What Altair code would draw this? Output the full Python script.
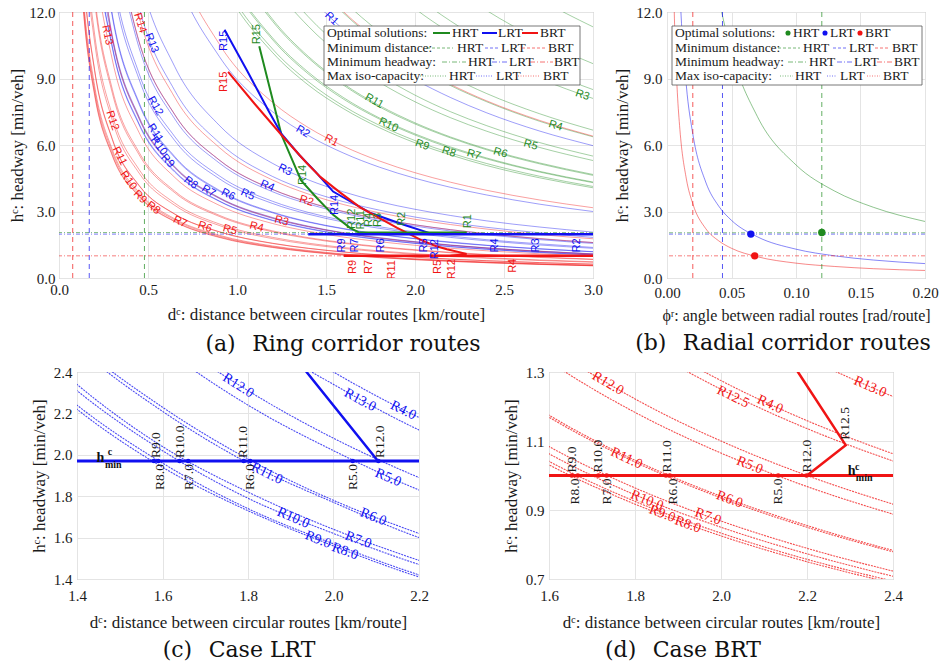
import math
import altair as alt
import pandas as pd

# ---------------- colours / fonts ----------------
GREEN = "#1f8a1f"
BLUE = "#1010f0"
RED = "#f01414"
MODES = ["HRT", "LRT", "BRT"]
MODE_COLOR = {"HRT": GREEN, "LRT": BLUE, "BRT": RED}
CS = alt.Scale(domain=MODES, range=[GREEN, BLUE, RED])
SERIF = "Liberation Serif"
SANS = "Liberation Sans"
CAP_FONT = "DejaVu Serif"

# ---------------- data ----------------
# distance grid (km/route); every iso-capacity list holds the headways read at the LAST len(list) grid points
D_GRID = [0.1, 0.14, 0.2, 0.3, 0.45, 0.65, 0.9, 1.2, 1.4, 1.6, 1.8, 2.0, 2.2, 2.4, 2.7, 3.0]

BRT_ISO = {
    "R1": [21.11, 14.62, 10.56, 7.92, 6.79, 5.94, 5.28, 4.75, 4.32, 3.96, 3.52, 3.17],
    "R2": [16.0, 10.67, 7.38, 5.33, 4.0, 3.43, 3.0, 2.67, 2.4, 2.18, 2.0, 1.78, 1.6],
    "R3": [16.25, 10.83, 7.22, 5.0, 3.61, 2.71, 2.321, 2.031, 1.806, 1.625, 1.477, 1.354, 1.204, 1.083],
    "R4": [18.21, 12.75, 8.5, 5.67, 3.92, 2.83, 2.125, 1.821, 1.594, 1.417, 1.275, 1.159, 1.063, 0.944, 0.85],
    "R5": [21.3, 15.21, 10.65, 7.1, 4.73, 3.28, 2.37, 1.775, 1.521, 1.331, 1.183, 1.065, 0.968, 0.888, 0.789, 0.71],
    "R6": [18.8, 13.43, 9.4, 6.27, 4.18, 2.89, 2.09, 1.567, 1.343, 1.175, 1.044, 0.94, 0.855, 0.783, 0.696, 0.627],
    "R7": [17.35, 12.39, 8.68, 5.78, 3.86, 2.67, 1.93, 1.446, 1.239, 1.084, 0.964, 0.868, 0.789, 0.723, 0.643, 0.578],
    "R8": [16.5, 11.79, 8.25, 5.5, 3.67, 2.54, 1.83, 1.375, 1.179, 1.031, 0.917, 0.825, 0.75, 0.688, 0.611, 0.55],
    "R9": [16.65, 11.89, 8.33, 5.55, 3.7, 2.56, 1.85, 1.388, 1.189, 1.041, 0.925, 0.833, 0.757, 0.694, 0.617, 0.555],
    "R10": [17.0, 12.14, 8.5, 5.67, 3.78, 2.62, 1.89, 1.417, 1.214, 1.063, 0.944, 0.85, 0.773, 0.708, 0.63, 0.567],
    "R11": [18.7, 13.36, 9.35, 6.23, 4.16, 2.88, 2.08, 1.558, 1.336, 1.169, 1.039, 0.935, 0.85, 0.779, 0.693, 0.623],
    "R12": [22.0, 15.71, 11.0, 7.33, 4.89, 3.38, 2.44, 1.833, 1.571, 1.375, 1.222, 1.1, 1.0, 0.917, 0.815, 0.733],
    "R12.5": [17.86, 12.5, 8.33, 5.56, 3.85, 2.78, 2.083, 1.786, 1.563, 1.389, 1.25, 1.136, 1.042, 0.926, 0.833],
    "R13": [21.07, 14.75, 9.83, 6.56, 4.54, 3.28, 2.458, 2.107, 1.844, 1.639, 1.475, 1.341, 1.229, 1.093, 0.983],
    "R14": [17.67, 11.78, 8.15, 5.89, 4.42, 3.79, 3.31, 2.94, 2.65, 2.41, 2.21, 1.96, 1.77],
    "R15": [21.33, 16.0, 13.71, 12.0, 10.67, 9.6, 8.73, 8.0, 7.11, 6.4],
}
LRT_ISO = {
    "R1": [19.89, 14.92, 12.79, 11.19, 9.94, 8.95, 8.14, 7.46, 6.63, 5.97],
    "R2": [20.0, 13.85, 10.0, 7.5, 6.43, 5.63, 5.0, 4.5, 4.09, 3.75, 3.33, 3.0],
    "R3": [18.33, 12.22, 8.46, 6.11, 4.58, 3.93, 3.44, 3.06, 2.75, 2.5, 2.29, 2.04, 1.83],
    "R4": [15.97, 10.64, 7.37, 5.32, 3.99, 3.42, 2.99, 2.66, 2.40, 2.18, 2.00, 1.77, 1.60],
    "R5": [20.15, 13.43, 8.96, 6.2, 4.48, 3.36, 2.88, 2.52, 2.24, 2.02, 1.83, 1.68, 1.49, 1.34],
    "R6": [17.8, 11.87, 7.91, 5.48, 3.96, 2.97, 2.54, 2.23, 1.98, 1.78, 1.62, 1.48, 1.32, 1.19],
    "R7": [16.35, 10.9, 7.27, 5.03, 3.63, 2.73, 2.34, 2.04, 1.82, 1.64, 1.49, 1.36, 1.21, 1.09],
    "R8": [22.21, 15.55, 10.37, 6.91, 4.78, 3.46, 2.59, 2.22, 1.94, 1.73, 1.56, 1.41, 1.30, 1.15, 1.04],
    "R9": [22.36, 15.65, 10.43, 6.96, 4.82, 3.48, 2.61, 2.24, 1.96, 1.74, 1.57, 1.42, 1.30, 1.16, 1.04],
    "R10": [23.07, 16.15, 10.77, 7.18, 4.97, 3.59, 2.69, 2.31, 2.02, 1.79, 1.62, 1.47, 1.35, 1.20, 1.08],
    "R11": [17.65, 11.77, 7.84, 5.43, 3.92, 2.94, 2.52, 2.21, 1.96, 1.77, 1.60, 1.47, 1.31, 1.18],
    "R12": [20.75, 13.83, 9.22, 6.38, 4.61, 3.46, 2.96, 2.59, 2.31, 2.08, 1.89, 1.73, 1.54, 1.38],
    "R13": [15.57, 10.38, 7.18, 5.19, 3.89, 3.34, 2.92, 2.59, 2.34, 2.12, 1.95, 1.73, 1.56],
    "R14": [20.67, 13.78, 9.54, 6.89, 5.17, 4.43, 3.88, 3.44, 3.1, 2.82, 2.58, 2.30, 2.07],
}
HRT_ISO = {
    "R1": [21.25, 18.89, 17.0, 15.45, 14.17, 12.59, 11.33],
    "R2": [20.71, 18.13, 16.11, 14.5, 13.18, 12.08, 10.74, 9.67],
    "R3": [20.25, 17.36, 15.19, 13.5, 12.15, 11.05, 10.13, 9.0, 8.1],
    "R4": [21.22, 15.92, 13.64, 11.94, 10.61, 9.55, 8.68, 7.96, 7.07, 6.37],
    "R5": [17.67, 13.25, 11.36, 9.94, 8.83, 7.95, 7.23, 6.63, 5.89, 5.3],
    "R6": [21.54, 15.56, 11.67, 10.0, 8.75, 7.78, 7.0, 6.36, 5.83, 5.19, 4.67],
    "R7": [19.85, 14.33, 10.75, 9.21, 8.06, 7.17, 6.45, 5.86, 5.38, 4.78, 4.3],
    "R8": [19.08, 13.78, 10.33, 8.86, 7.75, 6.89, 6.2, 5.64, 5.17, 4.59, 4.13],
    "R9": [18.77, 13.56, 10.17, 8.71, 7.63, 6.78, 6.1, 5.55, 5.08, 4.52, 4.07],
    "R10": [20.0, 14.44, 10.83, 9.29, 8.13, 7.22, 6.5, 5.91, 5.42, 4.81, 4.33],
    "R11": [21.38, 15.44, 11.58, 9.93, 8.69, 7.72, 6.95, 6.32, 5.79, 5.15, 4.63],
    "R12": [18.33, 13.75, 11.79, 10.31, 9.17, 8.25, 7.5, 6.88, 6.11, 5.5],
    "R13": [22.22, 16.67, 14.29, 12.5, 11.11, 10.0, 9.09, 8.33, 7.41, 6.67],
    "R14": [21.25, 18.21, 15.94, 14.17, 12.75, 11.59, 10.63, 9.44, 8.5],
}

# radial corridor (angle grid in rad/route, same "last points" convention)
PHI_GRID = [0.004, 0.006, 0.008, 0.01, 0.015, 0.02, 0.03, 0.04, 0.05, 0.07, 0.1, 0.13, 0.16, 0.2]
HRT_RAD = [17.0, 12.75, 10.2, 7.29, 5.1, 3.92, 3.19, 2.55]
LRT_RAD = [16.25, 13.0, 8.67, 6.5, 4.33, 3.25, 2.6, 1.86, 1.3, 1.0, 0.81, 0.65]
BRT_RAD = [16.75, 11.17, 8.38, 6.7, 4.47, 3.35, 2.23, 1.68, 1.34, 0.96, 0.67, 0.52, 0.42, 0.34]

# minimum distance / minimum headway per mode (HRT, LRT, BRT)
RING_MIN_D = [0.48, 0.17, 0.077]
RING_MIN_H = [2.05, 1.98, 1.0]
RAD_MIN_PHI = [0.12, 0.043, 0.02]
RAD_MIN_H = [2.04, 1.98, 1.0]
RAD_OPT_PHI = [0.12, 0.065, 0.068]
RAD_OPT_H = [2.05, 1.98, 1.0]

# optimal-solution paths (ring)
HRT_PATH_D = [1.125, 1.25, 1.36, 1.45, 1.54, 1.635, 1.69]
HRT_PATH_H = [10.45, 6.45, 4.4, 3.6, 2.85, 2.26, 2.04]
LRT_PATH_D = [0.93, 1.06, 1.18, 1.25, 1.35, 1.44, 1.54, 1.62, 1.75, 1.937, 2.104]
LRT_PATH_H = [11.2, 9.3, 7.5, 6.5, 5.55, 4.8, 3.9, 3.53, 2.93, 2.4, 1.97]
BRT_PATH_D = [0.95, 1.1, 1.25, 1.39, 1.47, 1.58, 1.69, 1.80, 1.90, 2.03, 2.12, 2.179, 2.29, 2.2]
BRT_PATH_H = [9.3, 7.85, 6.45, 5.2, 4.55, 3.85, 3.2, 2.7, 2.26, 1.73, 1.43, 1.3, 1.088, 1.0]
# h_min segments of optimal solutions
HMIN_D0 = [1.69, 1.4, 1.6]
HMIN_D1 = [2.29, 3.0, 3.0]
HMIN_H = [2.04, 1.97, 1.0]

# curve labels of panel (a)
A_LAB = {
    "BRT": (["R13", "R14", "R12", "R11", "R10", "R9", "R8", "R7", "R6", "R5", "R4", "R3", "R2", "R1"],
            [0.27, 0.455, 0.30, 0.34, 0.39, 0.455, 0.53, 0.68, 0.82, 0.96, 1.11, 1.25, 1.39, 1.53],
            [10.96, 11.5, 7.1, 5.5, 4.4, 3.65, 3.16, 2.53, 2.3, 2.17, 2.3, 2.57, 3.47, 6.2]),
    "LRT": (["R13", "R12", "R11", "R10", "R9", "R8", "R7", "R6", "R5", "R4", "R3", "R2", "R1"],
            [0.52, 0.54, 0.54, 0.56, 0.61, 0.74, 0.84, 0.95, 1.06, 1.17, 1.27, 1.37, 1.53],
            [10.6, 7.76, 6.54, 5.95, 5.28, 4.29, 3.92, 3.76, 3.76, 4.15, 4.87, 6.6, 11.7]),
    "HRT": (["R11", "R10", "R9", "R8", "R7", "R6", "R5", "R4", "R3"],
            [1.77, 1.85, 2.04, 2.19, 2.33, 2.48, 2.65, 2.79, 2.94],
            [7.98, 6.9, 6.0, 5.68, 5.55, 5.64, 6.0, 6.86, 8.25]),
}
# vertical labels of panel (a)
A_VLAB = {
    "HRT": (["R12", "R11", "R4", "R3", "R2", "R1", "R15", "R14"],
            [1.644, 1.695, 1.743, 1.794, 1.925, 2.296, 1.115, 1.372],
            [2.67, 2.62, 2.62, 2.62, 2.67, 2.56, 11.0, 4.65]),
    "LRT": (["R9", "R7", "R6", "R5", "R12", "R4", "R3", "R2", "R15", "R14"],
            [1.588, 1.663, 1.81, 2.05, 2.11, 2.45, 2.68, 2.91, 0.925, 1.55],
            [1.47, 1.47, 1.47, 1.47, 1.3, 1.47, 1.47, 1.47, 10.7, 3.3]),
    "BRT": (["R9", "R7", "R11", "R5", "R12", "R4", "R15"],
            [1.65, 1.74, 1.87, 2.13, 2.21, 2.55, 0.925],
            [0.5, 0.5, 0.37, 0.5, 0.4, 0.55, 8.85]),
}

# panel (c) LRT zoom
C_LAB_N = ["R12.0", "R13.0", "R4.0", "R11.0", "R5.0", "R6.0", "R10.0", "R7.0", "R9.0", "R8.0"]
C_LAB_D = [1.777, 2.062, 2.163, 1.844, 2.128, 2.093, 1.906, 2.058, 1.964, 2.027]
C_LAB_H = [2.335, 2.265, 2.215, 1.91, 1.89, 1.70, 1.695, 1.589, 1.59, 1.534]
C_UP_N = ["R9.0", "R10.0", "R11.0", "R12.0"]
C_UP_D = [1.585, 1.641, 1.789, 2.109]
C_UP_H = [1.97, 1.97, 1.97, 1.97]
C_DN_N = ["R8.0", "R7.0", "R6.0", "R5.0"]
C_DN_D = [1.593, 1.663, 1.805, 2.046]
C_DOTS = [1.58, 1.59, 1.64, 1.66, 1.79, 1.805, 2.045, 2.105]
C_HMIN = 1.97

# panel (d) BRT zoom
D_LAB_N = ["R12.0", "R12.5", "R4.0", "R13.0", "R11.0", "R5.0", "R6.0", "R10.0", "R7.0", "R9.0", "R8.0"]
D_LAB_D = [1.737, 2.028, 2.114, 2.347, 1.78, 2.067, 2.02, 1.828, 1.97, 1.863, 1.923]
D_LAB_H = [1.267, 1.228, 1.206, 1.257, 1.05, 1.03, 0.931, 0.928, 0.881, 0.889, 0.858]
D_UP_N = ["R9.0", "R10.0", "R11.0", "R12.0", "R12.5"]
D_UP_D = [1.653, 1.715, 1.874, 2.199, 2.288]
D_UP_H = [1.0, 1.0, 1.0, 1.0, 1.095]
D_DN_N = ["R8.0", "R7.0", "R6.0", "R5.0"]
D_DN_D = [1.66, 1.734, 1.888, 2.133]
D_DOTS = [1.653, 1.667, 1.715, 1.734, 1.872, 1.881, 2.133, 2.199]
D_HMIN = 1.0

LEGEND_ROWS = ["Optimal solutions:", "Minimum distance:", "Minimum headway:", "Max iso-capacity:"]

# ---------------- helpers ----------------
ONE = pd.DataFrame({"k": [0]})


def iso_rows(grid, table, mode):
    rows = []
    for r, vals in table.items():
        xs = grid[len(grid) - len(vals):]
        for x, y in zip(xs, vals):
            rows.append({"mode": mode, "curve": mode + r, "d": x, "h": y})
    return rows


def path_rows(mode, ds, hs):
    return [{"mode": mode, "d": d, "h": h, "i": i} for i, (d, h) in enumerate(zip(ds, hs))]


def label_rows(mode, names, ds, hs, ppx=None, ppy=None, angle=None):
    out = []
    for n, d, h in zip(names, ds, hs):
        a = angle if angle is not None else math.degrees(math.atan((h / d) * ppy / ppx))
        out.append({"mode": mode, "name": n, "d": d, "h": h, "ang": a})
    return out


def ax(values, fmt, title, tpad, lpad=4, tsize=17):
    return alt.Axis(values=values, format=fmt, title=title, titlePadding=tpad, labelPadding=lpad,
                    titleFontSize=tsize, labelFontSize=15, labelFont=SERIF, titleFont=SERIF,
                    titleFontWeight="normal", labelColor="#1a1a1a", titleColor="#1a1a1a",
                    domain=False, ticks=False, grid=True, gridColor="#e4e4e4", gridWidth=1,
                    labelFlush=False, labelOverlap=False)


def make_xy(xdom, xvals, xfmt, xtitle, ydom, yvals, yfmt, ytitle, xtp, ytp, xlp, ylp, xts=17):
    xs = alt.Scale(domain=xdom, nice=False, zero=False)
    ys = alt.Scale(domain=ydom, nice=False, zero=False)
    xa = ax(xvals, xfmt, xtitle, xtp, xlp, xts)
    ya = ax(yvals, yfmt, ytitle, ytp, ylp)

    def X(f):
        return alt.X(f + ":Q", scale=xs, axis=xa)

    def Y(f):
        return alt.Y(f + ":Q", scale=ys, axis=ya)
    return X, Y


COL = alt.Color("mode:N", scale=CS, legend=None)


def txt(s, x, y, size=13.5, align="left"):
    return alt.Chart(ONE).mark_text(text=s, align=align, baseline="middle", font=SERIF,
                                    fontSize=size, color="#1a1a1a").encode(x=alt.value(x), y=alt.value(y))


def legend(box, row_y, lbl_x, samples, dots=False):
    L = [alt.Chart(ONE).mark_rect(fill="white", stroke="#555555", strokeWidth=0.8).encode(
        x=alt.value(box[0]), x2=alt.value(box[2]), y=alt.value(box[1]), y2=alt.value(box[3]))]
    styles = [dict(strokeWidth=2), dict(strokeWidth=1, strokeDash=[3, 2], opacity=0.6),
              dict(strokeWidth=1, strokeDash=[5, 2, 1, 2], opacity=0.6), dict(strokeWidth=1, strokeDash=[1, 1.5], opacity=0.6)]
    for r, (lbl, y) in enumerate(zip(LEGEND_ROWS, row_y)):
        L.append(txt(lbl, lbl_x, y))
        for m, (sx0, sx1, tx) in zip(MODES, samples[r]):
            if r == 0 and dots:
                L.append(alt.Chart(ONE).mark_circle(size=26, color=MODE_COLOR[m], opacity=1).encode(
                    x=alt.value(sx0), y=alt.value(y)))
            else:
                L.append(alt.Chart(ONE).mark_rule(color=MODE_COLOR[m], **styles[r]).encode(
                    x=alt.value(sx0), x2=alt.value(sx1), y=alt.value(y)))
            L.append(txt(m, tx, y))
    return L


def caption(s, dx, offset):
    return alt.TitleParams(text=s, orient="bottom", anchor="middle", frame="group", font=CAP_FONT,
                           fontSize=22, fontWeight="normal", color="#111111", offset=offset, dx=dx)


SP = "\u2002\u2005"

# ---------------- panel (a) ----------------
AW, AH = 534, 266
Xa, Ya = make_xy([0, 3], [0, 0.5, 1, 1.5, 2, 2.5, 3], ".1f", "dᶜ: distance between circular routes [km/route]",
                 [0, 12], [0, 3, 6, 9, 12], ".1f", "hᶜ: headway [min/veh]", 9, 2, 4, 4)

ring = pd.DataFrame(iso_rows(D_GRID, HRT_ISO, "HRT") + iso_rows(D_GRID, LRT_ISO, "LRT") + iso_rows(D_GRID, BRT_ISO, "BRT"))
paths = pd.DataFrame(path_rows("HRT", HRT_PATH_D, HRT_PATH_H) + path_rows("LRT", LRT_PATH_D, LRT_PATH_H)
                     + path_rows("BRT", BRT_PATH_D, BRT_PATH_H))
hmin = pd.DataFrame({"mode": MODES, "d0": HMIN_D0, "d1": HMIN_D1, "h": HMIN_H})
vmin_a = pd.DataFrame({"mode": MODES, "d": RING_MIN_D})
hmin_a = pd.DataFrame({"mode": MODES, "h": RING_MIN_H})
ppx_a, ppy_a = AW / 3.0, AH / 12.0
alab = []
for m, (n, d, h) in A_LAB.items():
    alab += label_rows(m, n, d, h, ppx_a, ppy_a)
alab = pd.DataFrame(alab)
avlab = []
for m, (n, d, h) in A_VLAB.items():
    avlab += label_rows(m, n, d, h, angle=270)
avlab = pd.DataFrame(avlab)

a_layers = [
    alt.Chart(ring).mark_line(interpolate="monotone", clip=True, strokeWidth=0.9, opacity=0.45).encode(
        x=Xa("d"), y=Ya("h"), detail="curve:N", color=COL),
    alt.Chart(vmin_a).mark_rule(strokeDash=[5, 4], strokeWidth=1, opacity=0.7).encode(x=Xa("d"), color=COL),
    alt.Chart(hmin_a).mark_rule(strokeDash=[4, 2, 1, 2], strokeWidth=1, opacity=0.55).encode(y=Ya("h"), color=COL),
    alt.Chart(paths).mark_line(strokeWidth=2, clip=True).encode(
        x=Xa("d"), y=Ya("h"), detail="mode:N", order=alt.Order("i:Q"), color=COL),
    alt.Chart(hmin).mark_rule(strokeWidth=2.5, clip=True).encode(
        x=Xa("d0"), x2=alt.X2("d1"), y=Ya("h"), color=COL),
    alt.Chart(alab).mark_text(font=SANS, fontSize=11, clip=True, baseline="middle").encode(
        x=Xa("d"), y=Ya("h"), text="name:N", angle=alt.Angle("ang:Q", scale=None), color=COL),
    alt.Chart(avlab).mark_text(font=SANS, fontSize=11, clip=True, baseline="middle").encode(
        x=Xa("d"), y=Ya("h"), text="name:N", angle=alt.Angle("ang:Q", scale=None), color=COL),
]
ox, oy = 59, 14
a_layers += legend((324 - ox, 28 - oy, 580 - ox, 87 - oy), [35 - oy, 50 - oy, 64 - oy, 78 - oy], 327 - ox,
                   [[(374, 391, 393), (423, 438, 439), (463, 479, 481)],
                    [(368, 394, 398), (426, 441, 442), (463, 488, 489)],
                    [(383, 407, 409), (433, 449, 450), (471, 494, 495)],
                    [(361, 388, 390), (417, 434, 437), (459, 481, 484)]])
panel_a = alt.layer(*a_layers).properties(width=AW, height=AH,
                                          title=caption("(a)" + SP + "Ring corridor routes", 17, 12))

# ---------------- panel (b) ----------------
BW, BH = 258, 266
Xb, Yb = make_xy([0, 0.2], [0, 0.05, 0.1, 0.15, 0.2], ".2f", "ϕʳ: angle between radial routes [rad/route]",
                 [0, 12], [0, 3, 6, 9, 12], ".1f", "hᶜ: headway [min/veh]", 7, 4, 7, 5, xts=16)
rad = pd.DataFrame(iso_rows(PHI_GRID, {"r": HRT_RAD}, "HRT") + iso_rows(PHI_GRID, {"r": LRT_RAD}, "LRT")
                   + iso_rows(PHI_GRID, {"r": BRT_RAD}, "BRT"))
vmin_b = pd.DataFrame({"mode": MODES, "d": RAD_MIN_PHI})
hmin_b = pd.DataFrame({"mode": MODES, "h": RAD_MIN_H})
opt_b = pd.DataFrame({"mode": MODES, "d": RAD_OPT_PHI, "h": RAD_OPT_H})
b_layers = [
    alt.Chart(rad).mark_line(interpolate="monotone", clip=True, strokeWidth=1, opacity=0.5).encode(
        x=Xb("d"), y=Yb("h"), detail="curve:N", color=COL),
    alt.Chart(vmin_b).mark_rule(strokeDash=[5, 4], strokeWidth=1, opacity=0.7).encode(x=Xb("d"), color=COL),
    alt.Chart(hmin_b).mark_rule(strokeDash=[4, 2, 1, 2], strokeWidth=1, opacity=0.55).encode(y=Yb("h"), color=COL),
    alt.Chart(opt_b).mark_circle(size=55, opacity=1).encode(x=Xb("d"), y=Yb("h"), color=COL),
]
ox, oy = 667, 14
b_layers += legend((672 - ox, 28 - oy, 922 - ox, 87 - oy), [35 - oy, 50 - oy, 64 - oy, 78 - oy], 675 - ox,
                   [[(788 - ox, 0, 793 - ox), (825 - ox, 0, 830 - ox), (860 - ox, 0, 865 - ox)],
                    [(778 - ox, 800 - ox, 803 - ox), (833 - ox, 847 - ox, 849 - ox), (875 - ox, 890 - ox, 892 - ox)],
                    [(788 - ox, 807 - ox, 809 - ox), (837 - ox, 853 - ox, 854 - ox), (877 - ox, 893 - ox, 894 - ox)],
                    [(780 - ox, 793 - ox, 795 - ox), (827 - ox, 837 - ox, 840 - ox), (867 - ox, 880 - ox, 883 - ox)]],
                   dots=True)
panel_b = alt.layer(*b_layers).properties(width=BW, height=BH,
                                          title=caption("(b)" + SP + "Radial corridor routes", -13, 10))


# ---------------- panels (c) and (d) ----------------
def zoom_panel(mode, W, H, xdom, xvals, ydom, yvals, labN, labD, labH, upN, upD, upH, dnN, dnD, dots, hm,
               hmin_txt, cap, capdx):
    X, Y = make_xy(xdom, xvals, ".1f", "dᶜ: distance between circular routes [km/route]",
                   ydom, yvals, ".1f", "hᶜ: headway [min/veh]", 11, 5, 9, 5)
    iso = {"LRT": LRT_ISO, "BRT": BRT_ISO}[mode]
    cur = pd.DataFrame(iso_rows(D_GRID, iso, mode))
    pth = paths[paths["mode"] == mode]
    hm_df = hmin[hmin["mode"] == mode]
    ppx = W / (xdom[1] - xdom[0])
    ppy = H / (ydom[1] - ydom[0])
    lab = pd.DataFrame(label_rows(mode, labN, labD, labH, ppx, ppy))
    up = pd.DataFrame({"name": upN, "d": upD, "h": upH})
    dn = pd.DataFrame({"name": dnN, "d": dnD, "h": [hm] * len(dnN)})
    dt = pd.DataFrame({"mode": [mode] * len(dots), "d": dots, "h": [hm] * len(dots)})
    ht = pd.DataFrame(hmin_txt)
    L = [
        alt.Chart(cur).mark_line(interpolate="monotone", clip=True, strokeWidth=1.1, opacity=0.75,
                                 strokeDash=[2, 1]).encode(x=X("d"), y=Y("h"), detail="curve:N", color=COL),
        alt.Chart(hm_df).mark_rule(strokeWidth=3, clip=True).encode(x=X("d0"), x2=alt.X2("d1"), y=Y("h"), color=COL),
        alt.Chart(pth).mark_line(strokeWidth=2.5, clip=True).encode(
            x=X("d"), y=Y("h"), order=alt.Order("i:Q"), color=COL),
        alt.Chart(dt).mark_circle(size=22, opacity=1).encode(x=X("d"), y=Y("h"), color=COL),
        alt.Chart(lab).mark_text(font=SERIF, fontSize=14, clip=True, baseline="middle").encode(
            x=X("d"), y=Y("h"), text="name:N", angle=alt.Angle("ang:Q", scale=None), color=COL),
        alt.Chart(up).mark_text(font=SERIF, fontSize=13.5, angle=270, align="left", baseline="middle",
                                dx=3, color="#1a1a1a").encode(x=X("d"), y=Y("h"), text="name:N"),
        alt.Chart(dn).mark_text(font=SERIF, fontSize=13.5, angle=270, align="right", baseline="middle",
                                dx=-3, color="#1a1a1a").encode(x=X("d"), y=Y("h"), text="name:N"),
        alt.Chart(ht).mark_text(font=SERIF, color="#111111", baseline="middle", align="center",
                                fontWeight="bold").encode(
            x=X("d"), y=Y("h"), text="t:N", size=alt.Size("s:Q", scale=None)),
    ]
    return alt.layer(*L).properties(width=W, height=H, title=caption(cap, capdx, 10))


panel_c = zoom_panel("LRT", 342, 207, [1.4, 2.2], [1.4, 1.6, 1.8, 2.0, 2.2], [1.4, 2.4],
                     [1.4, 1.6, 1.8, 2.0, 2.2, 2.4], C_LAB_N, C_LAB_D, C_LAB_H, C_UP_N, C_UP_D, C_UP_H,
                     C_DN_N, C_DN_D, C_DOTS, C_HMIN,
                     {"t": ["h", "c", "min"], "d": [1.455, 1.477, 1.485], "h": [1.985, 2.012, 1.952],
                      "s": [14, 10, 10]},
                     "(c)" + SP + "Case LRT", -9)
panel_d = zoom_panel("BRT", 344, 207, [1.6, 2.4], [1.6, 1.8, 2.0, 2.2, 2.4], [0.7, 1.3],
                     [0.7, 0.9, 1.1, 1.3], D_LAB_N, D_LAB_D, D_LAB_H, D_UP_N, D_UP_D, D_UP_H,
                     D_DN_N, D_DN_D, D_DOTS, D_HMIN,
                     {"t": ["h", "c", "min"], "d": [2.304, 2.317, 2.333], "h": [1.012, 1.024, 0.993],
                      "s": [14, 10, 10]},
                     "(d)" + SP + "Case BRT", -38)


def spacer(w):
    return alt.Chart(ONE).mark_rect(opacity=0).encode(
        x=alt.value(0), x2=alt.value(1), y=alt.value(0), y2=alt.value(1)).properties(
        width=w, height=10, view=alt.ViewBackground(strokeOpacity=0))


row1 = alt.hconcat(spacer(8), alt.hconcat(panel_a, panel_b, spacing=10), spacing=0)
row2 = alt.hconcat(spacer(29), alt.hconcat(panel_c, panel_d, spacing=72), spacing=0)
chart = alt.vconcat(row1, row2, spacing=8).properties(
    padding={"left": 0, "top": 4, "right": 0, "bottom": 0}, background="white"
).configure_view(stroke="#a8a8a8", strokeWidth=1)

chart.save("out.html", embed_options={"renderer": "svg", "actions": False})
